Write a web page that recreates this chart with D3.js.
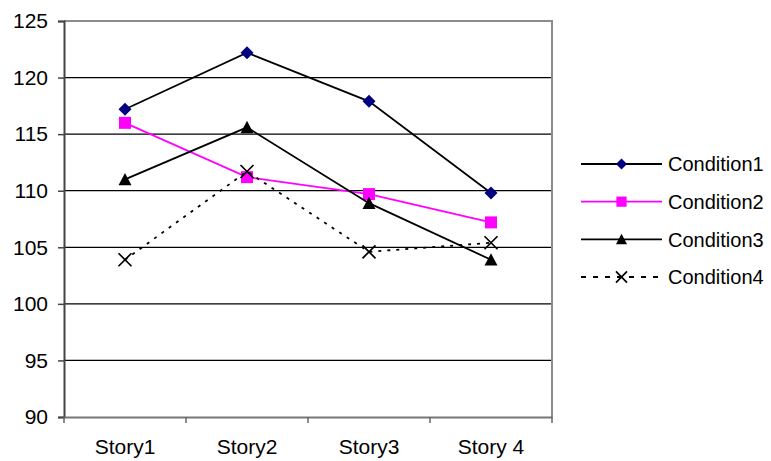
<!DOCTYPE html>
<html>
<head>
<meta charset="utf-8">
<script src="https://cdn.jsdelivr.net/npm/d3@7"></script>
<style>
  html, body { margin: 0; padding: 0; background: #fff; }
  svg text { font-family: Arial, "Liberation Sans", sans-serif; fill: #000; }
</style>
</head>
<body>
<svg id="chart" width="771" height="461"></svg>
<script>
// Chart data
const categories = ["Story1", "Story2", "Story3", "Story 4"];
const seriesNames = ["Condition1", "Condition2", "Condition3", "Condition4"];
const condition1 = [117.2, 122.2, 117.9, 109.8];
const condition2 = [116.0, 111.2, 109.7, 107.2];
const condition3 = [111.0, 115.6, 108.9, 103.9];
const condition4 = [103.9, 111.7, 104.6, 105.4];
const yTicks = [90, 95, 100, 105, 110, 115, 120, 125];

const series = [
  { name: seriesNames[0], values: condition1, color: "#000", marker: "diamond", dash: null },
  { name: seriesNames[1], values: condition2, color: "#ff00ff", marker: "square", dash: null },
  { name: seriesNames[2], values: condition3, color: "#000", marker: "triangle", dash: null },
  { name: seriesNames[3], values: condition4, color: "#000", marker: "cross", dash: "3,6" }
];

const svg = d3.select("#chart");
const plot = { left: 64, right: 552, top: 21, bottom: 417 };

const x = d3.scaleBand().domain(categories).range([plot.left, plot.right]);
const y = d3.scaleLinear().domain([90, 125]).range([plot.bottom, plot.top]);

// Horizontal gridlines
svg.append("g")
  .selectAll("line")
  .data(yTicks.filter(t => t > 90 && t < 125))
  .join("line")
  .attr("x1", plot.left).attr("x2", plot.right)
  .attr("y1", d => y(d)).attr("y2", d => y(d))
  .attr("stroke", "#000").attr("stroke-width", 1.3);

// Plot area border (top and right)
svg.append("path")
  .attr("d", `M${plot.left},${plot.top}H${plot.right}V${plot.bottom}`)
  .attr("fill", "none").attr("stroke", "#8c8c8c").attr("stroke-width", 2);

// Y axis
const yAxis = svg.append("g")
  .attr("transform", `translate(${plot.left},0)`)
  .call(d3.axisLeft(y).tickValues(yTicks).tickSize(6).tickPadding(10).tickFormat(d3.format("d")));
yAxis.select(".domain").attr("stroke", "#444").attr("stroke-width", 2);
yAxis.selectAll(".tick line").attr("stroke", "#444").attr("stroke-width", 1.5);
yAxis.selectAll(".tick text").style("font-size", "21px").attr("fill", "#000");

// X axis
const xAxis = svg.append("g")
  .attr("transform", `translate(0,${plot.bottom})`)
  .call(d3.axisBottom(x).tickSize(0).tickPadding(22));
xAxis.select(".domain").attr("stroke", "#777").attr("stroke-width", 2);
xAxis.selectAll(".tick text").style("font-size", "21px").attr("fill", "#000");
// category separator ticks
svg.append("g")
  .selectAll("line")
  .data(d3.range(categories.length + 1))
  .join("line")
  .attr("x1", i => plot.left + i * x.step()).attr("x2", i => plot.left + i * x.step())
  .attr("y1", plot.bottom).attr("y2", plot.bottom + 6)
  .attr("stroke", "#666").attr("stroke-width", 1.5);

// Marker drawing helper
function drawMarker(g, type, cx, cy, s) {
  if (type === "diamond") {
    const r = 6.5 * s;
    g.append("path").attr("d", `M${cx},${cy - r}L${cx + r},${cy}L${cx},${cy + r}L${cx - r},${cy}Z`)
      .attr("fill", "#000080");
  } else if (type === "square") {
    const h = 6 * s;
    g.append("rect").attr("x", cx - h).attr("y", cy - h).attr("width", 2 * h).attr("height", 2 * h)
      .attr("fill", "#ff00ff");
  } else if (type === "triangle") {
    const h = 6.5 * s;
    g.append("path").attr("d", `M${cx},${cy - h}L${cx + h},${cy + h * 0.9}L${cx - h},${cy + h * 0.9}Z`)
      .attr("fill", "#000");
  } else if (type === "cross") {
    const h = 6.5 * s;
    g.append("path").attr("d", `M${cx - h},${cy - h}L${cx + h},${cy + h}M${cx + h},${cy - h}L${cx - h},${cy + h}`)
      .attr("stroke", "#000").attr("stroke-width", 1.7).attr("fill", "none");
  }
}

const cxOf = c => x(c) + x.bandwidth() / 2;
const line = d3.line().x((d, i) => cxOf(categories[i])).y(d => y(d));

// Series lines and markers
series.forEach(s => {
  svg.append("path")
    .datum(s.values)
    .attr("d", line)
    .attr("fill", "none")
    .attr("stroke", s.color)
    .attr("stroke-width", 1.8)
    .attr("stroke-dasharray", s.dash);
  const g = svg.append("g");
  s.values.forEach((v, i) => drawMarker(g, s.marker, cxOf(categories[i]), y(v), 1));
});

// Legend
const legend = svg.append("g");
const legendY = d3.scalePoint().domain(seriesNames).range([164, 277]);
series.forEach(s => {
  const ly = legendY(s.name);
  legend.append("line")
    .attr("x1", 581).attr("x2", 662).attr("y1", ly).attr("y2", ly)
    .attr("stroke", s.color).attr("stroke-width", 1.8)
    .attr("stroke-dasharray", s.dash ? "5,7" : null);
  drawMarker(legend, s.marker, 621.5, ly, 0.85);
  legend.append("text")
    .attr("x", 668).attr("y", ly).attr("dy", "0.36em")
    .style("font-size", "20px")
    .text(s.name);
});
</script>
</body>
</html>
